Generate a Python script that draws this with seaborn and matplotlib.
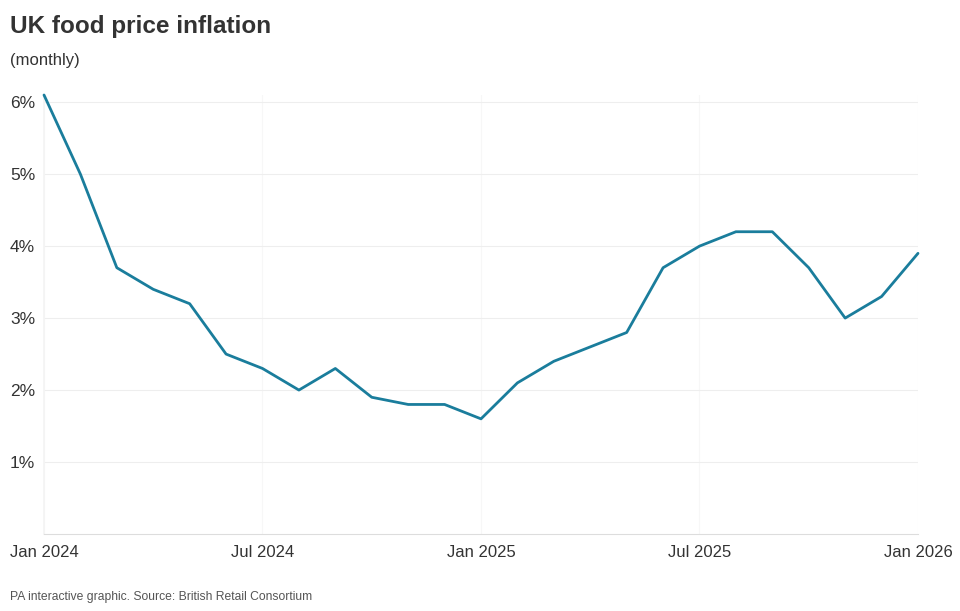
import pandas as pd
import seaborn as sns
import matplotlib.pyplot as plt

# Monthly food price inflation, Jan 2024 - Jan 2026 (percent)
months = pd.date_range('2024-01-01', '2026-01-01', freq='MS')
inflation = [6.1, 5.0, 3.7, 3.4, 3.2, 2.5, 2.3, 2.0, 2.3, 1.9, 1.8, 1.8,
             1.6, 2.1, 2.4, 2.6, 2.8, 3.7, 4.0, 4.2, 4.2, 3.7, 3.0, 3.3,
             3.9]
y_ticks = [1, 2, 3, 4, 5, 6]
y_labels = ['1%', '2%', '3%', '4%', '5%', '6%']
x_ticks = [0, 6, 12, 18, 24]
x_labels = ['Jan 2024', 'Jul 2024', 'Jan 2025', 'Jul 2025', 'Jan 2026']

df = pd.DataFrame({'month': range(len(months)), 'inflation': inflation})

sns.set_theme(style='white')
plt.rcParams['font.family'] = ['Liberation Sans', 'DejaVu Sans']

fig = plt.figure(figsize=(9.6, 6.11), dpi=100)
ax = fig.add_axes([44 / 960, 1 - 534 / 611, (918 - 44) / 960, (534 - 95) / 611])

sns.lineplot(data=df, x='month', y='inflation', ax=ax, color='#1a7d9c',
             linewidth=2.0, clip_on=False, zorder=3)

ax.set_xlim(0, 24)
ax.set_ylim(0, 6.1)
ax.set_yticks(y_ticks)
ax.set_yticklabels(y_labels)
ax.set_xticks(x_ticks)
ax.set_xticklabels(x_labels)
ax.set_xlabel('')
ax.set_ylabel('')

ax.grid(axis='y', color='#eeeeee', linewidth=0.8)
ax.grid(axis='x', color='#f7f7f7', linewidth=0.8)
for side in ['top', 'right']:
    ax.spines[side].set_visible(False)
ax.spines['left'].set_color('#f4f4f4')
ax.spines['bottom'].set_color('#dddddd')
ax.spines['bottom'].set_linewidth(0.8)

ax.tick_params(axis='y', length=0, pad=24.5, labelsize=12.5, labelcolor='#333333')
ax.tick_params(axis='x', length=0, pad=8, labelsize=12, labelcolor='#333333')
for lab in ax.get_yticklabels():
    lab.set_horizontalalignment('left')

fig.text(10 / 960, 1 - 27 / 611, 'UK food price inflation', fontsize=17.5,
         fontweight='bold', color='#333333', va='center', ha='left')
fig.text(10 / 960, 1 - 60 / 611, '(monthly)', fontsize=12, color='#333333',
         va='center', ha='left')
fig.text(10 / 960, 1 - 597 / 611, 'PA interactive graphic. Source: British Retail Consortium',
         fontsize=8.7, color='#555555', va='center', ha='left')

plt.savefig('out.png', dpi=100)
